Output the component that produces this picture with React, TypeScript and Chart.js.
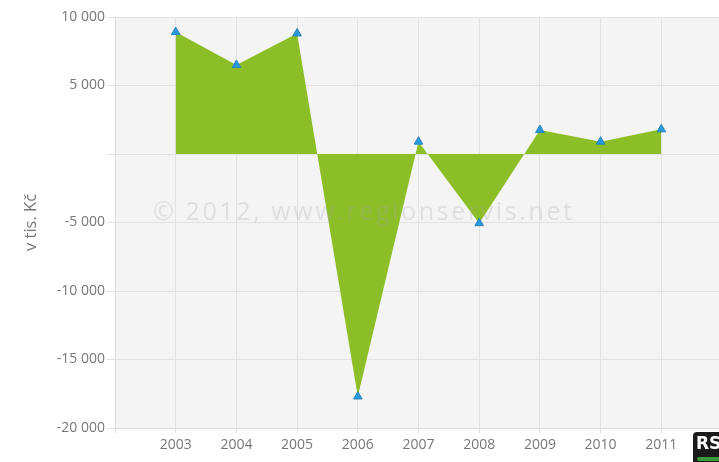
import React, { useEffect, useRef } from "react";
import { Chart, registerables } from "chart.js";

Chart.register(...registerables);

const years: number[] = [2003, 2004, 2005, 2006, 2007, 2008, 2009, 2010, 2011];
const values: number[] = [8900, 6500, 8800, -17700, 900, -5050, 1750, 900, 1800];
const yTicks: number[] = [10000, 5000, 0, -5000, -10000, -15000, -20000];
const yTitle = "v tis. Kč";
const watermark = "© 2012, www.regionservis.net";

const FONT = "'Open Sans', 'DejaVu Sans', sans-serif";

function fmt(v: number): string {
  if (v === 0) return "";
  const s = Math.abs(v).toString().replace(/\B(?=(\d{3})+(?!\d))/g, " ");
  return (v < 0 ? "-" : "") + s;
}

const bgPlugin = {
  id: "plotBg",
  beforeDraw(chart: any) {
    const { ctx, chartArea } = chart;
    ctx.save();
    ctx.fillStyle = "#f4f4f4";
    ctx.fillRect(chartArea.left, chartArea.top, chartArea.right - chartArea.left, chartArea.bottom - chartArea.top);
    ctx.restore();
  },
  afterDatasetsDraw(chart: any) {
    const { ctx } = chart;
    ctx.save();
    ctx.font = `25px ${FONT}`;
    ctx.fillStyle = "rgba(170,170,170,0.28)";
    ctx.textAlign = "left";
    ctx.textBaseline = "middle";
    const target = 419;
    const w0 = ctx.measureText(watermark).width;
    const n = Array.from(watermark).length;
    const ls = Math.max(0, (target - w0) / (n - 1));
    (ctx as any).letterSpacing = `${ls}px`;
    ctx.fillText(watermark, 153, 213);
    ctx.restore();
  },
};

export default function App() {
  const ref = useRef<HTMLCanvasElement | null>(null);
  useEffect(() => {
    if (!ref.current) return;
    const chart = new Chart(ref.current, {
      type: "line",
      data: {
        datasets: [
          {
            data: years.map((y, i) => ({ x: y, y: values[i] })),
            backgroundColor: "#8cbe27",
            borderColor: "#8cbe27",
            borderWidth: 0,
            fill: "origin",
            tension: 0,
            pointStyle: "triangle",
            pointRadius: 5,
            pointBackgroundColor: "#2799dc",
            pointBorderColor: "#2a86b8",
            pointBorderWidth: 1,
          },
        ],
      },
      options: {
        responsive: false,
        animation: false,
        layout: { padding: { left: 0, right: 10, top: 17, bottom: 0 } },
        plugins: { legend: { display: false }, tooltip: { enabled: false } },
        scales: {
          x: {
            type: "linear",
            min: 2002,
            max: 2012,
            afterFit: (s: any) => {
              s.height = 34;
            },
            ticks: {
              stepSize: 1,
              autoSkip: false,
              maxRotation: 0,
              color: "#777777",
              font: { family: FONT, size: 14 },
              padding: 4,
              callback: (v: any) => (v === 2002 || v === 2012 ? "" : String(v)),
            },
            grid: { color: "#e2e2e2", tickLength: 5, lineWidth: 1 },
            border: { color: "#dddddd" },
          },
          y: {
            min: -20000,
            max: 10000,
            afterFit: (s: any) => {
              s.width = 115;
            },
            afterBuildTicks: (s: any) => {
              s.ticks = yTicks.map((v) => ({ value: v }));
            },
            ticks: {
              color: "#777777",
              font: { family: FONT, size: 14 },
              padding: 2,
              callback: (v: any) => fmt(Number(v)),
            },
            grid: { color: "#e2e2e2", tickLength: 8, lineWidth: 1 },
            border: { color: "#dddddd" },
            title: {
              display: true,
              text: yTitle,
              color: "#777777",
              font: { family: FONT, size: 16.5 },
              padding: { top: 21, bottom: 0 },
            },
          },
        },
      },
      plugins: [bgPlugin],
    } as any);
    return () => chart.destroy();
  }, []);
  return (
    <div style={{ position: "fixed", left: 0, top: 0, width: 719, height: 462, overflow: "hidden", background: "#fff" }}>
      <canvas ref={ref} width={732} height={462} style={{ display: "block" }} />
      <div
        style={{
          position: "absolute",
          left: 693,
          top: 432,
          width: 34,
          height: 36,
          background: "#1a1a1a",
          borderRadius: 4,
          color: "#fff",
          fontFamily: "'DejaVu Sans', sans-serif",
          fontWeight: "bold",
          fontSize: 17,
          lineHeight: "22px",
          paddingLeft: 3,
          boxSizing: "border-box",
          overflow: "hidden",
        }}
      >
        RS
        <div style={{ position: "absolute", left: 4, top: 25, width: 40, height: 4, background: "#3a9a3a", borderRadius: 2 }} />
      </div>
    </div>
  );
}
